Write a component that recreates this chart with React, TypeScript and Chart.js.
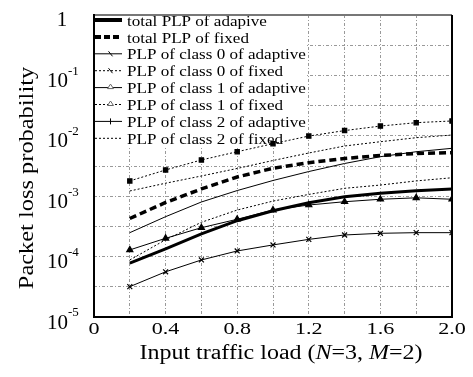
import React, { useEffect, useRef } from 'react';
import { Chart, registerables } from 'chart.js';

Chart.register(...registerables);

// ---- data ----
const loads = [0.2, 0.4, 0.6, 0.8, 1.0, 1.2, 1.4, 1.6, 1.8, 2.0];
const totalAdaptive = [7.8e-5, 1.34e-4, 2.37e-4, 3.93e-4, 5.75e-4, 7.8e-4, 9.8e-4, 1.12e-3, 1.23e-3, 1.32e-3];
const totalFixed = [4.27e-4, 7.87e-4, 1.32e-3, 2.08e-3, 2.9e-3, 3.59e-3, 4.21e-3, 4.72e-3, 5.09e-3, 5.25e-3];
const class0Adaptive = [3.18e-5, 5.6e-5, 8.8e-5, 1.24e-4, 1.56e-4, 1.93e-4, 2.28e-4, 2.43e-4, 2.49e-4, 2.49e-4];
const class0Fixed = [1.79e-3, 2.72e-3, 3.98e-3, 5.45e-3, 7.4e-3, 9.9e-3, 1.22e-2, 1.45e-2, 1.65e-2, 1.76e-2];
const class1Adaptive = [1.29e-4, 2.01e-4, 3.01e-4, 4.15e-4, 5.9e-4, 7.15e-4, 8.1e-4, 8.9e-4, 9.4e-4, 8.9e-4];
const class1Fixed = [8.8e-5, 1.9e-4, 3.7e-4, 5.9e-4, 8.3e-4, 1.07e-3, 1.35e-3, 1.53e-3, 1.79e-3, 2.02e-3];
const class2Adaptive = [2.49e-4, 4.58e-4, 8.02e-4, 1.24e-3, 1.82e-3, 2.56e-3, 3.48e-3, 4.51e-3, 5.45e-3, 6.21e-3];
const class2Fixed = [1.22e-3, 1.64e-3, 2.16e-3, 2.88e-3, 3.9e-3, 5.19e-3, 6.78e-3, 7.98e-3, 9.3e-3, 1.03e-2];

const seriesLabels = [
  'total PLP of adapive',
  'total PLP of fixed',
  'PLP of class 0 of adaptive',
  'PLP of class 0 of fixed',
  'PLP of class 1 of adaptive',
  'PLP of class 1 of fixed',
  'PLP of class 2 of adaptive',
  'PLP of class 2 of fixed',
];
const seriesValues = [
  totalAdaptive, totalFixed, class0Adaptive, class0Fixed,
  class1Adaptive, class1Fixed, class2Adaptive, class2Fixed,
];

const xTickValues = [0, 0.4, 0.8, 1.2, 1.6, 2.0];
const xTickLabels = ['0', '0.4', '0.8', '1.2', '1.6', '2.0'];
const yTickExponents = [0, -1, -2, -3, -4, -5];
const yGridExponents = [0, -0.5, -1, -1.5, -2, -2.5, -3, -3.5, -4, -4.5, -5];

const xTitleParts = [
  { t: 'Input traffic load (', i: false },
  { t: 'N', i: true },
  { t: '=3, ', i: false },
  { t: 'M', i: true },
  { t: '=2)', i: false },
];
const yTitle = 'Packet loss probability';

// ---- styles ----
const SERIF = "'Liberation Serif', 'Times New Roman', serif";
const seriesStyles: any[] = [
  { borderWidth: 3, borderDash: [], pointRadius: 0, pointStyle: 'circle' },
  { borderWidth: 3.5, borderDash: [7, 4], pointRadius: 0, pointStyle: 'circle' },
  { borderWidth: 1, borderDash: [], pointRadius: 3.5, pointStyle: 'crossRot' },
  { borderWidth: 1, borderDash: [2, 2], pointRadius: 3, pointStyle: 'rect' },
  { borderWidth: 1, borderDash: [], pointRadius: 3.5, pointStyle: 'triangle' },
  { borderWidth: 1, borderDash: [2, 2], pointRadius: 0, pointStyle: 'circle' },
  { borderWidth: 1, borderDash: [], pointRadius: 0, pointStyle: 'circle' },
  { borderWidth: 1, borderDash: [2, 2], pointRadius: 0, pointStyle: 'circle' },
];
const legendStyles: any[] = [
  { width: 4, dash: [], marker: null },
  { width: 4, dash: [6, 3], marker: null },
  { width: 1, dash: [], marker: 'slash' },
  { width: 1, dash: [2, 2], marker: 'slash' },
  { width: 1, dash: [], marker: 'triangle' },
  { width: 1, dash: [2, 2], marker: 'triangle' },
  { width: 1, dash: [], marker: 'tick' },
  { width: 1, dash: [2, 2], marker: null },
];

function stretchText(ctx: CanvasRenderingContext2D, text: string, x: number, y: number, sx: number, align: CanvasTextAlign) {
  ctx.save();
  ctx.translate(x, y);
  ctx.scale(sx, 1);
  ctx.textAlign = align;
  ctx.fillText(text, 0, 0);
  ctx.restore();
}

const legendPlugin = {
  id: 'paperLegend',
  beforeDatasetsDraw(chart: any) {
    const { ctx, chartArea } = chart;
    const L = chartArea.left;
    const T = chartArea.top;
    ctx.save();
    ctx.fillStyle = '#fff';
    ctx.fillRect(L + 1, T + 1, 211, 131);
    seriesLabels.forEach((label, i) => {
      const st = legendStyles[i];
      const y = T + 5 + i * 16.9;
      const x0 = L + 1;
      const x1 = L + 28;
      ctx.strokeStyle = '#000';
      ctx.lineWidth = st.width;
      ctx.setLineDash(st.dash);
      ctx.beginPath();
      ctx.moveTo(x0, y);
      ctx.lineTo(x1, y);
      ctx.stroke();
      ctx.setLineDash([]);
      const cx = (x0 + x1) / 2 + 2;
      ctx.lineWidth = 1;
      if (st.marker === 'slash') {
        ctx.beginPath();
        ctx.moveTo(cx - 2, y - 2.5);
        ctx.lineTo(cx + 2, y + 2.5);
        ctx.stroke();
      } else if (st.marker === 'triangle') {
        ctx.strokeStyle = '#666';
        ctx.beginPath();
        ctx.moveTo(cx, y - 3.5);
        ctx.lineTo(cx + 3, y + 1);
        ctx.lineTo(cx - 3, y + 1);
        ctx.closePath();
        ctx.fillStyle = '#fff';
        ctx.fill();
        ctx.stroke();
      } else if (st.marker === 'tick') {
        ctx.beginPath();
        ctx.moveTo(cx, y - 3);
        ctx.lineTo(cx, y + 3);
        ctx.stroke();
      }
      ctx.fillStyle = '#000';
      ctx.font = `14px ${SERIF}`;
      ctx.textBaseline = 'middle';
      stretchText(ctx, label, L + 33, y + 2, 1.22, 'left');
    });
    ctx.restore();
  },
};

const paperPlugin = {
  id: 'paperText',
  afterDraw(chart: any) {
    const { ctx, chartArea, scales } = chart;
    const xs = scales.x;
    const ys = scales.y;
    const { left, right, top, bottom } = chartArea;
    ctx.save();
    // frame
    ctx.setLineDash([]);
    ctx.lineWidth = 2;
    ctx.strokeStyle = '#777';
    ctx.beginPath();
    ctx.moveTo(left, top);
    ctx.lineTo(right, top);
    ctx.stroke();
    ctx.strokeStyle = '#000';
    ctx.beginPath();
    ctx.moveTo(right, top);
    ctx.lineTo(right, bottom);
    ctx.lineTo(left, bottom);
    ctx.lineTo(left, top - 1);
    ctx.stroke();

    ctx.fillStyle = '#000';
    ctx.textBaseline = 'middle';
    // x tick labels
    ctx.font = `17px ${SERIF}`;
    xTickValues.forEach((v, i) => {
      stretchText(ctx, xTickLabels[i], xs.getPixelForValue(v), bottom + 13, 1.3, 'center');
    });
    // y tick labels
    yTickExponents.forEach((e) => {
      const py = ys.getPixelForValue(Math.pow(10, e));
      if (e === 0) {
        ctx.font = `21px ${SERIF}`;
        ctx.textAlign = 'center';
        ctx.fillText('1', left - 32, py + 5);
      } else {
        ctx.font = `21px ${SERIF}`;
        ctx.textAlign = 'right';
        ctx.fillText('10', left - 26, py + 6);
        ctx.font = `13px ${SERIF}`;
        ctx.textAlign = 'left';
        ctx.fillText(String(e), left - 26, py - 4);
      }
    });
    // x title
    ctx.font = `20px ${SERIF}`;
    const sx = 1.2;
    let total = 0;
    const widths = xTitleParts.map((p) => {
      ctx.font = `${p.i ? 'italic ' : ''}20px ${SERIF}`;
      const w = ctx.measureText(p.t).width * sx;
      total += w;
      return w;
    });
    let cx = (left + right) / 2 + 8 - total / 2;
    xTitleParts.forEach((p, i) => {
      ctx.font = `${p.i ? 'italic ' : ''}20px ${SERIF}`;
      stretchText(ctx, p.t, cx, bottom + 37, sx, 'left');
      cx += widths[i];
    });
    // y title
    ctx.save();
    ctx.translate(left - 66, (top + bottom) / 2 + 12);
    ctx.rotate(-Math.PI / 2);
    ctx.font = `20px ${SERIF}`;
    stretchText(ctx, yTitle, 0, 0, 1.22, 'center');
    ctx.restore();
    ctx.restore();
  },
};

export default function App() {
  const ref = useRef<HTMLCanvasElement | null>(null);
  useEffect(() => {
    if (!ref.current) return;
    const datasets = seriesValues.map((vals, i) => ({
      label: seriesLabels[i],
      data: loads.map((x, j) => ({ x, y: vals[j] })),
      borderColor: '#000',
      backgroundColor: '#000',
      pointBackgroundColor: '#000',
      pointBorderColor: '#000',
      pointBorderWidth: 1.2,
      fill: false,
      tension: 0,
      ...seriesStyles[i],
    }));
    const chart = new Chart(ref.current, {
      type: 'line',
      data: { datasets },
      options: {
        animation: false,
        responsive: true,
        maintainAspectRatio: false,
        layout: { padding: { left: 86, right: 13, top: 7, bottom: 52 } },
        plugins: { legend: { display: false }, tooltip: { enabled: false } },
        scales: {
          x: {
            type: 'linear',
            min: 0,
            max: 2,
            ticks: { display: false, stepSize: 0.2 },
            grid: { color: '#999', lineWidth: 1, drawTicks: false },
            border: { display: false, dash: [3, 2, 1, 2] },
          },
          y: {
            type: 'logarithmic',
            min: 1e-5,
            max: 1,
            afterBuildTicks: (scale: any) => {
              scale.ticks = yGridExponents.map((e) => ({ value: Math.pow(10, e) }));
            },
            ticks: { display: false },
            grid: { color: '#999', lineWidth: 1, drawTicks: false },
            border: { display: false, dash: [3, 2, 1, 2] },
          },
        },
      },
      plugins: [legendPlugin, paperPlugin],
    });
    return () => chart.destroy();
  }, []);
  return (
    <div style={{ width: 457, height: 361 }}>
      <canvas ref={ref} />
    </div>
  );
}
